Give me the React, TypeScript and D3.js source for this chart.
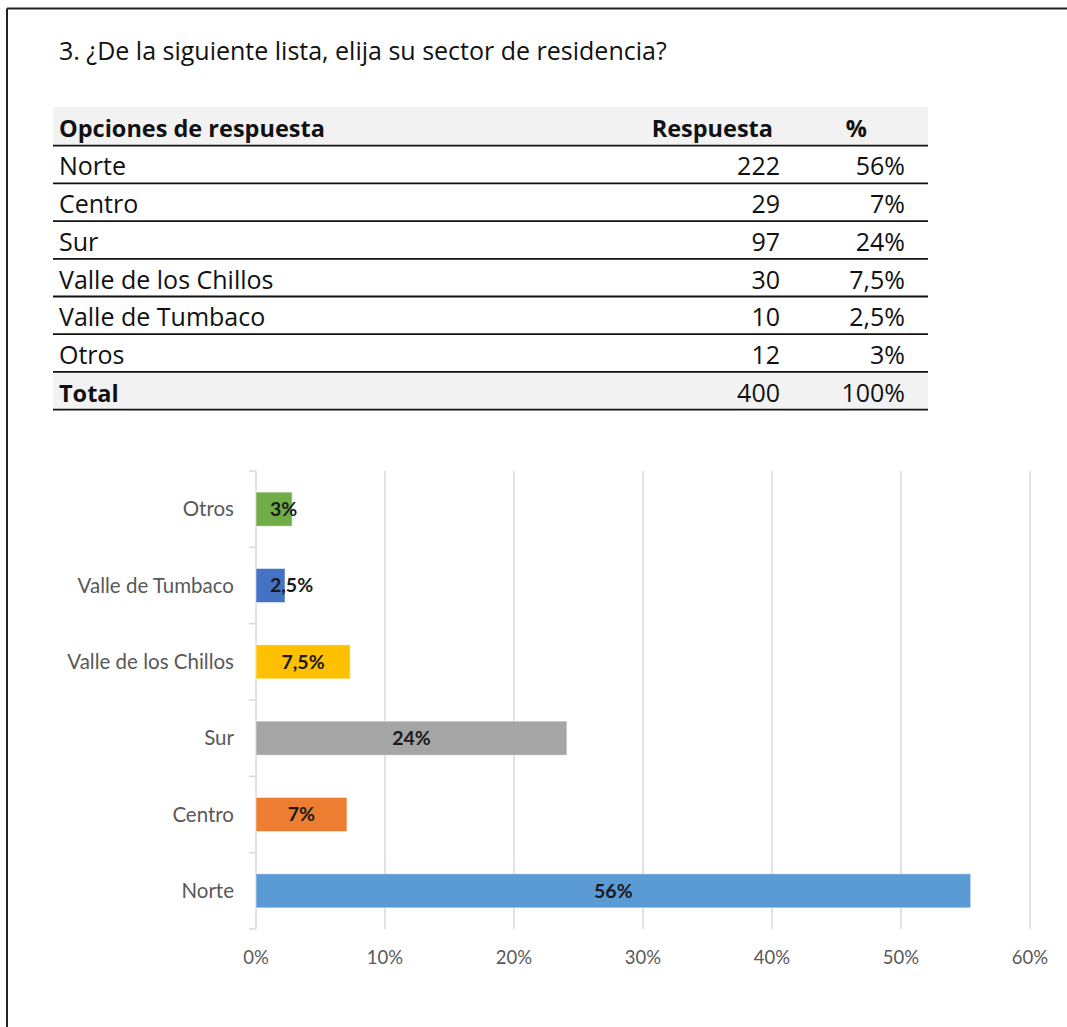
import React from "react";
import * as d3 from "d3";

const title = "3. ¿De la siguiente lista, elija su sector de residencia?";
const tableHeaders = ["Opciones de respuesta", "Respuesta", "%"];
const options = ["Norte", "Centro", "Sur", "Valle de los Chillos", "Valle de Tumbaco", "Otros"];
const responses = [222, 29, 97, 30, 10, 12];
const percentLabels = ["56%", "7%", "24%", "7,5%", "2,5%", "3%"];
const totalLabel = "Total";
const totalResponses = 400;
const totalPercent = "100%";

// chart (top to bottom order)
const chartCategories = ["Otros", "Valle de Tumbaco", "Valle de los Chillos", "Sur", "Centro", "Norte"];
const chartValues = [0.028, 0.0225, 0.073, 0.241, 0.0705, 0.554];
const chartLabels = ["3%", "2,5%", "7,5%", "24%", "7%", "56%"];
const chartColors = ["#70ad47", "#4472c4", "#ffc000", "#a5a5a5", "#ed7d31", "#5b9bd5"];
const xTicks = [0, 0.1, 0.2, 0.3, 0.4, 0.5, 0.6];

const FONT = "Lato, 'Open Sans', sans-serif";
const TFONT = "'Open Sans', Lato, sans-serif";

export default function App() {
  const W = 1067;
  const H = 1027;

  // table geometry
  const tX0 = 53;
  const tX1 = 928;
  const tTop = 107;
  const rowH = 37.7;
  const headerBottom = 145.7;
  const rowLines = d3.range(options.length + 2).map((i) => headerBottom + i * rowH);
  const colRespRight = 780;
  const colPctRight = 905;
  const TFS = 25;
  const BFS = 23.5;

  // chart geometry
  const x = d3.scaleLinear().domain([0, 0.6]).range([256, 1030]);
  const y = d3
    .scaleBand<string>()
    .domain(chartCategories)
    .range([471, 929])
    .paddingInner(0.554)
    .paddingOuter(0.277);
  const step = y.step();
  const yTop = 471;
  const boundaries = d3.range(chartCategories.length + 1).map((i) => yTop + i * step);

  return (
    <svg
      width={W}
      height={H}
      style={{ position: "absolute", left: 0, top: 0, background: "#fff" }}
      fontFamily={FONT}
    >
      <rect x={0} y={0} width={W} height={H} fill="#fff" />
      {/* frame */}
      <line x1={7} y1={8.5} x2={W} y2={8.5} stroke="#222" strokeWidth={2} />
      <line x1={7} y1={8.5} x2={7} y2={H} stroke="#222" strokeWidth={2} />

      <g fontFamily={TFONT}>
        {/* title */}
        <text x={59} y={60} fontSize={TFS} fill="#111">
          {title}
        </text>

        {/* table */}
        <rect x={tX0} y={tTop} width={tX1 - tX0} height={headerBottom - tTop} fill="#f2f2f2" />
        <rect
          x={tX0}
          y={rowLines[options.length]}
          width={tX1 - tX0}
          height={rowH}
          fill="#f2f2f2"
        />
        <text x={59} y={headerBottom - 9} fontSize={BFS} fontWeight={700} fill="#111">
          {tableHeaders[0]}
        </text>
        <text x={773} y={headerBottom - 9} fontSize={BFS} fontWeight={700} fill="#111" textAnchor="end">
          {tableHeaders[1]}
        </text>
        <text x={867} y={headerBottom - 9} fontSize={BFS} fontWeight={700} fill="#111" textAnchor="end">
          {tableHeaders[2]}
        </text>
        {options.map((o, i) => {
          const base = rowLines[i + 1] - 8;
          return (
            <g key={o}>
              <text x={59} y={base} fontSize={TFS} fill="#111">
                {o}
              </text>
              <text x={colRespRight} y={base} fontSize={TFS} fill="#111" textAnchor="end">
                {responses[i]}
              </text>
              <text x={colPctRight} y={base} fontSize={TFS} fill="#111" textAnchor="end">
                {percentLabels[i]}
              </text>
            </g>
          );
        })}
        <text x={59} y={rowLines[options.length + 1] - 8} fontSize={BFS} fontWeight={700} fill="#111">
          {totalLabel}
        </text>
        <text
          x={colRespRight}
          y={rowLines[options.length + 1] - 8}
          fontSize={TFS}
          fill="#111"
          textAnchor="end"
        >
          {totalResponses}
        </text>
        <text
          x={colPctRight}
          y={rowLines[options.length + 1] - 8}
          fontSize={TFS}
          fill="#111"
          textAnchor="end"
        >
          {totalPercent}
        </text>
        {rowLines.map((ly, i) => (
          <line key={i} x1={tX0} x2={tX1} y1={ly} y2={ly} stroke="#111" strokeWidth={1.8} />
        ))}
      </g>

      {/* chart gridlines */}
      {xTicks.slice(1).map((t) => (
        <line key={t} x1={x(t)} x2={x(t)} y1={yTop} y2={929} stroke="#d9d9d9" strokeWidth={1.5} />
      ))}
      {/* y axis */}
      <line x1={x(0)} x2={x(0)} y1={yTop} y2={929} stroke="#d9d9d9" strokeWidth={1.5} />
      {boundaries.map((b, i) => (
        <line key={i} x1={x(0) - 7} x2={x(0)} y1={b} y2={b} stroke="#d9d9d9" strokeWidth={1.5} />
      ))}

      {/* bars */}
      {chartCategories.map((c, i) => {
        const by = y(c)!;
        const bw = x(chartValues[i]) - x(0);
        return (
          <rect
            key={c}
            x={x(0)}
            y={by}
            width={bw}
            height={y.bandwidth()}
            fill={chartColors[i]}
            stroke="#fff"
            strokeOpacity={0.5}
            strokeWidth={1}
          />
        );
      })}
      {/* category labels */}
      {chartCategories.map((c) => (
        <text
          key={c}
          x={234}
          y={y(c)! + y.bandwidth() / 2}
          dy="0.35em"
          fontSize={20.5}
          fill="#595959"
          textAnchor="end"
        >
          {c}
        </text>
      ))}
      {/* data labels */}
      {chartCategories.map((c, i) => {
        const bw = x(chartValues[i]) - x(0);
        const lw = chartLabels[i].length * 11.5;
        const center = x(0) + bw / 2;
        const fits = bw >= lw + 20;
        return (
          <text
            key={c}
            x={fits ? center : x(0) + 14}
            y={y(c)! + y.bandwidth() / 2}
            dy="0.35em"
            fontSize={19.5}
            fontWeight={700}
            fill="#1a1a1a"
            textAnchor={fits ? "middle" : "start"}
          >
            {chartLabels[i]}
          </text>
        );
      })}
      {/* x tick labels */}
      {xTicks.map((t) => (
        <text key={t} x={x(t)} y={964} fontSize={18.5} fill="#595959" textAnchor="middle">
          {d3.format(".0%")(t)}
        </text>
      ))}
    </svg>
  );
}
